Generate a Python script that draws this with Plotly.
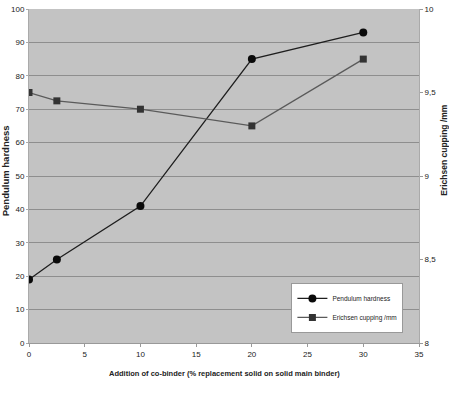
import plotly.graph_objects as go

x_vals = [0, 2.5, 10, 20, 30]
pendulum = [19, 25, 41, 85, 93]
erichsen = [9.5, 9.45, 9.4, 9.3, 9.7]
left_ticks = [0, 10, 20, 30, 40, 50, 60, 70, 80, 90, 100]
right_ticks = [8, 8.5, 9, 9.5, 10]
x_ticks = [0, 5, 10, 15, 20, 25, 30, 35]

FONT = "Liberation Sans, Arial, sans-serif"

fig = go.Figure()
fig.add_trace(go.Scatter(
    x=x_vals, y=pendulum, name="Pendulum hardness", mode="lines+markers",
    line=dict(color="#1e1e1e", width=1.3),
    marker=dict(symbol="circle", size=8, color="#0a0a0a"),
))
fig.add_trace(go.Scatter(
    x=x_vals, y=erichsen, name="Erichsen cupping /mm", mode="lines+markers",
    yaxis="y2",
    line=dict(color="#5a5a5a", width=1.3),
    marker=dict(symbol="square", size=7, color="#333333"),
))

fig.update_layout(
    width=449, height=396,
    margin=dict(l=29, r=30, t=9, b=53),
    paper_bgcolor="white",
    plot_bgcolor="#c3c3c3",
    separators=", ",
    font=dict(family=FONT, size=8, color="#222"),
    showlegend=True,
    legend=dict(
        x=0.96, y=0.18, xanchor="right", yanchor="top",
        bgcolor="white", bordercolor="#999", borderwidth=1,
        font=dict(size=6.5, family=FONT, color="#222"),
        itemwidth=30, tracegroupgap=0,
    ),
    xaxis=dict(
        range=[0, 35], tickvals=x_ticks, showgrid=False, zeroline=False,
        ticks="outside", ticklen=3, tickcolor="#999",
        showline=True, linecolor="#999", linewidth=1, automargin=False,
    ),
    yaxis=dict(
        range=[0, 100], tickvals=left_ticks, showgrid=True,
        gridcolor="#8e8e8e", gridwidth=1.2, zeroline=False,
        showline=True, linecolor="#aaa", ticks="outside", ticklen=2,
        tickcolor="#aaa", automargin=False,
    ),
    yaxis2=dict(
        range=[8, 10], tickvals=right_ticks, overlaying="y", side="right",
        showgrid=False, zeroline=False, ticks="outside", ticklen=3, tickcolor="#999",
        showline=True, linecolor="#aaa", automargin=False,
    ),
    annotations=[
        dict(text="<b>Addition of co-binder (% replacement solid on solid main binder)</b>",
             xref="paper", yref="paper", x=0.5, y=-0.09, showarrow=False,
             xanchor="center", yanchor="middle", font=dict(size=7.5, family=FONT)),
        dict(text="<b>Pendulum hardness</b>", textangle=-90,
             xref="paper", yref="paper", x=-0.06, y=0.516, showarrow=False,
             xanchor="center", yanchor="middle", font=dict(size=9.5, family=FONT)),
        dict(text="<b>Erichsen cupping /mm</b>", textangle=-90,
             xref="paper", yref="paper", x=1.062, y=0.579, showarrow=False,
             xanchor="center", yanchor="middle", font=dict(size=8.5, family=FONT)),
    ],
)

fig.write_html(
    "out.html",
    config={"displayModeBar": False},
    post_script="document.body.style.margin='0px';document.body.style.overflow='hidden';",
)
